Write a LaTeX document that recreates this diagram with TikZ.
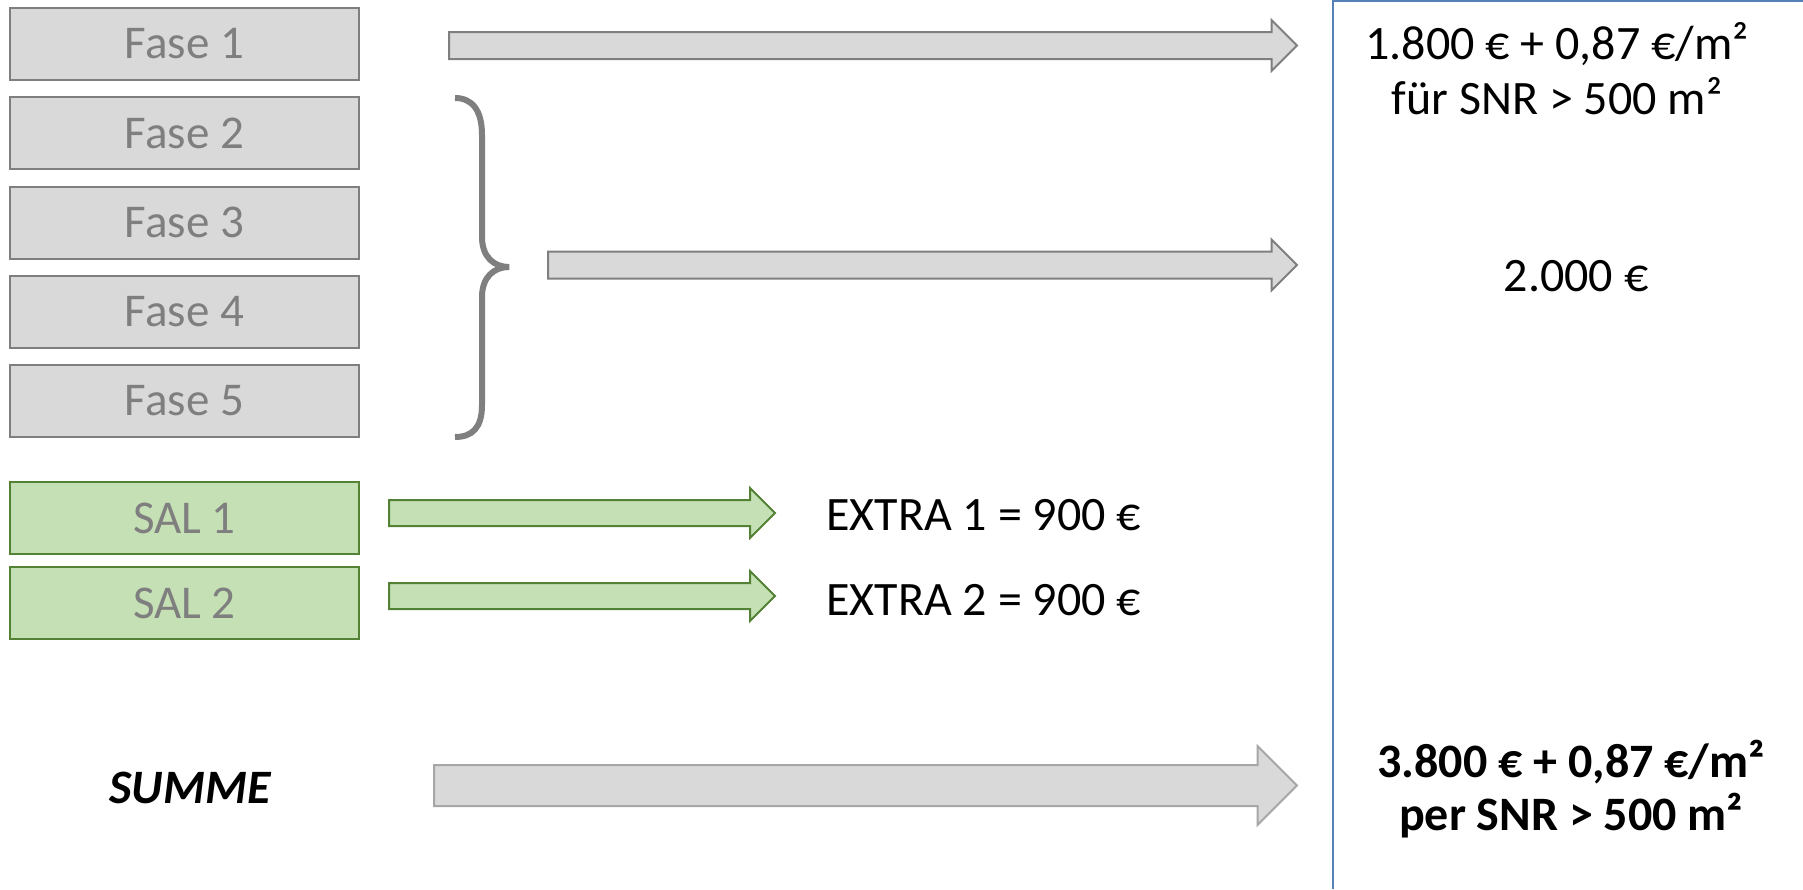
\documentclass[tikz,border=0pt]{standalone}
\usepackage{fontspec}
\setmainfont{Carlito}
\usepackage{tikz}
\usetikzlibrary{shapes.arrows}
\definecolor{fasegray}{HTML}{D9D9D9}
\definecolor{randgray}{HTML}{7F7F7F}
\definecolor{salgreen}{HTML}{C5E0B4}
\definecolor{randgreen}{HTML}{548235}
\definecolor{pfeilrand}{HTML}{A6A6A6}
\definecolor{linieblau}{HTML}{5580B8}
\tikzset{
  fasebox/.style={draw=randgray, fill=fasegray, line width=1pt, inner sep=0pt,
    minimum width=174.5pt, minimum height=36pt, text=randgray,
    font=\fontsize{23.5}{27}\selectfont},
  salbox/.style={fasebox, draw=randgreen, fill=salgreen},
  blockpfeil/.style={single arrow, draw=randgray, fill=fasegray, line width=1pt,
    anchor=tail, inner xsep=0pt, inner ysep=6.25pt, single arrow head extend=6pt},
  gruenpfeil/.style={blockpfeil, draw=randgreen, fill=salgreen, inner ysep=6pt},
  summenpfeil/.style={blockpfeil, draw=pfeilrand, inner ysep=9.75pt,
    single arrow head extend=9.5pt},
  kosten/.style={inner sep=0pt, align=center, font=\fontsize{24}{27.5}\selectfont},
  extra/.style={inner sep=0pt, anchor=west, font=\fontsize{24}{28}\selectfont}
}

\begin{document}
\begin{tikzpicture}[x=0.5pt, y=-0.5pt]

  \useasboundingbox (0,0) rectangle (1803,889);

  \newcommand\Pitch{89.25}

  %% Fase 1 ... 5
  \foreach \i in {1,...,5}
    \node[fasebox] (fase\i) at (184.5, {44+(\i-1)*\Pitch}) {Fase \i};

  \node[salbox] (sal1) at (184.5,518) {SAL 1};
  \node[salbox] (sal2) at (184.5,603) {SAL 2};

  %% block arrows
  \node[blockpfeil, minimum height=424pt] (pfeil1) at (448,45.5) {};
  \node[blockpfeil, minimum height=374.5pt] (pfeil2) at (547,265) {};
  \node[gruenpfeil, minimum height=193pt] (pfeil3) at (388,513) {};
  \node[gruenpfeil, minimum height=193pt] (pfeil4) at (388,596) {};
  \node[summenpfeil, minimum height=431.5pt] (pfeil5) at (433,785.5) {};

  %% brace round Fase 2 - 5
  \draw[randgray, line width=3pt]
  (455,98) .. controls (472,98) and (482,110) .. (482,135)
  -- (482,237) .. controls (482,257) and (494,267) .. (509,267)
  .. controls (494,267) and (482,277) .. (482,297)
  -- (482,405) .. controls (482,428) and (472,437) .. (455,437);

  %% right column
  \draw[linieblau, line width=1pt] (1333,889) -- (1333,1) -- (1803,1);

  \node[kosten] (kosten1) at (1557,69) {1.800 € + 0,87 €/m²\\für SNR > 500 m²};
  \node[kosten] (kosten2) at (1576,276) {2.000 €};

  \node[extra] (extra1) at (826,515) {EXTRA 1 = 900 €};
  \node[extra] (extra2) at (826,600) {EXTRA 2 = 900 €};

  \node[kosten, font=\fontsize{24}{26.5}\selectfont\bfseries] (gesamt) at (1571,789)
  {3.800 € + 0,87 €/m²\\per SNR > 500 m²};
  \node[kosten, font=\fontsize{24}{27}\selectfont\bfseries\itshape] (summe) at (190,788) {SUMME};

\end{tikzpicture}
\end{document}
